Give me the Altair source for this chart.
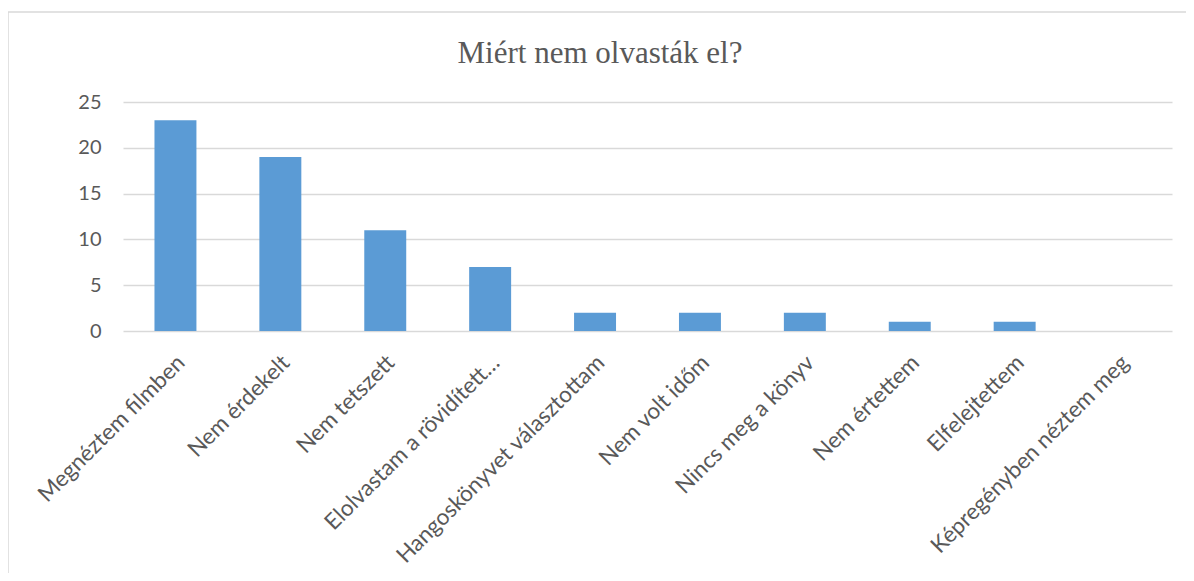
import altair as alt
import pandas as pd

categories = [
    "Megnéztem filmben",
    "Nem érdekelt",
    "Nem tetszett",
    "Elolvastam a rövidített…",
    "Hangoskönyvet választottam",
    "Nem volt időm",
    "Nincs meg a könyv",
    "Nem értettem",
    "Elfelejtettem",
    "Képregényben néztem meg",
]
values = [23, 19, 11, 7, 2, 2, 2, 1, 1, 0]
title_text = "Miért nem olvasták el?"

df = pd.DataFrame({"cat": categories, "val": values})

TEXT = "#595959"
GRID = "#D9D9D9"

bars = alt.Chart(df).mark_bar(color="#5B9BD5").encode(
    x=alt.X(
        "cat:N",
        sort=categories,
        title=None,
        scale=alt.Scale(paddingInner=0.6, paddingOuter=0.3),
        axis=alt.Axis(
            labelAngle=-45,
            labelFont="Lato",
            labelFontSize=22.5,
            labelColor=TEXT,
            labelPadding=20,
            labelOffset=-2,
            ticks=False,
            domain=False,
            grid=False,
            labelLimit=400,
        ),
    ),
    y=alt.Y(
        "val:Q",
        title=None,
        scale=alt.Scale(domain=[0, 25]),
        axis=alt.Axis(
            values=[0, 5, 10, 15, 20, 25],
            labelFont="Lato",
            labelFontSize=20,
            labelColor=TEXT,
            labelPadding=22,
            ticks=False,
            domain=False,
            grid=True,
            gridColor=GRID,
            gridWidth=1.5,
        ),
    ),
)

border = alt.Chart(pd.DataFrame({"d": [0]})).mark_rect(
    fill=None, stroke=GRID, strokeWidth=1.5
).encode(
    x=alt.value(-115), x2=alt.value(3000), y=alt.value(-90), y2=alt.value(3000)
)

title = alt.Chart(pd.DataFrame({"t": [title_text]})).mark_text(
    font="Liberation Serif",
    fontSize=31,
    color=TEXT,
    align="center",
    baseline="alphabetic",
).encode(text="t:N", x=alt.value(477), y=alt.value(-39))

chart = alt.layer(border, bars, title).properties(
    width=1049,
    height=229,
    padding={"left": 115, "top": 94, "right": 14, "bottom": 242},
    autosize=alt.AutoSizeParams(type="none"),
).configure_view(stroke=None)

chart.save("out.html", embed_options={"renderer": "svg", "actions": False})
